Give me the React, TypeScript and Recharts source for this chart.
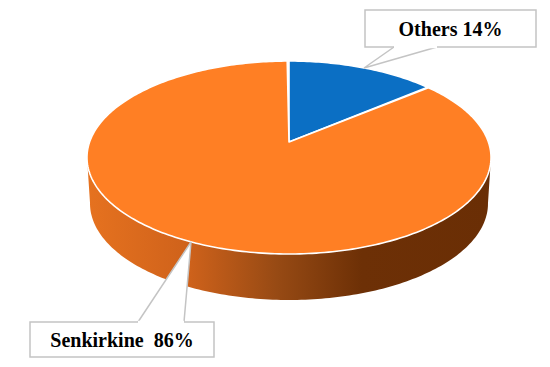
import { PieChart, Pie } from "recharts"

const sliceNames = ["Others", "Senkirkine"]
const sliceValues = [14, 86]
const sliceColors = ["#0b6fc4", "#ff7f24"]

// perspective of the tilted disc: the apex sits above the middle of the ellipse
const CX = 289
const CY = 142
const SCALE_X = 199.4
const SCALE_Y = 94
const TILT = 0.1606
const DEPTH = 46
const BOTTOM_SHRINK = 0.985

const data = sliceNames.map((name, i) => ({ name, value: sliceValues[i], fill: sliceColors[i] }))

// callout boxes, by slice name
const CALLOUTS: Record<string, any> = {
  Others: { x: 365, y: 10, w: 171, h: 37, baseA: 394, baseB: 437, baseY: 47, tipX: 364, tipY: 68, gap: " ", textY: 36 },
  Senkirkine: { x: 30, y: 322, w: 184, h: 35, baseA: 138, baseB: 184, baseY: 322, tipX: 191, tipY: 242, gap: "  ", textY: 347 },
}

// angle in degrees clockwise from the top of the disc
function project(deg: number) {
  const t = (deg * Math.PI) / 180
  const u = Math.sin(t)
  const v = Math.cos(t)
  const d = 1 + TILT * v
  return { x: CX + (SCALE_X * u) / d, y: CY - (SCALE_Y * v) / d }
}

function SliceShape(props: any) {
  const from = 90 - props.startAngle
  const to = 90 - props.endAngle
  const top: string[] = []
  for (let a = from; a <= to; a += 1) {
    const p = project(a)
    top.push(`${p.x.toFixed(2)},${p.y.toFixed(2)}`)
  }
  const face = `M${CX},${CY} L${top.join(" L")} Z`

  // only the front of the disc shows its side
  const frontFrom = Math.max(from, 99)
  const frontTo = Math.min(to, 261)
  let wall = ""
  if (frontTo > frontFrom) {
    const upper: string[] = []
    const lower: string[] = []
    for (let a = frontFrom; a <= frontTo; a += 1) {
      const p = project(a)
      upper.push(`${p.x.toFixed(2)},${p.y.toFixed(2)}`)
      lower.unshift(`${(CX + (p.x - CX) * BOTTOM_SHRINK).toFixed(2)},${(p.y + DEPTH).toFixed(2)}`)
    }
    wall = `M${upper.join(" L")} L${lower.join(" L")} Z`
  }

  return (
    <g>
      <defs>
        <linearGradient id="wallShade" x1="87" x2="491" y1="0" y2="0" gradientUnits="userSpaceOnUse">
          <stop offset="0" stopColor="#e6721f" />
          <stop offset="0.25" stopColor="#cf621b" />
          <stop offset="0.47" stopColor="#974a14" />
          <stop offset="0.68" stopColor="#6d3006" />
          <stop offset="1" stopColor="#6a2e05" />
        </linearGradient>
      </defs>
      {wall && <path d={wall} fill="url(#wallShade)" />}
      <path d={face} fill={props.fill} stroke="#ffffff" strokeWidth={1.6} strokeLinejoin="round" />
    </g>
  )
}

function CalloutLabel(props: any) {
  const c = CALLOUTS[props.name]
  const pct = Math.round(props.percent * 100)
  const outline = `M${c.x},${c.y} H${c.x + c.w} V${c.y + c.h} H${c.x} Z`
  const wedge = `M${c.baseA},${c.baseY} L${c.tipX},${c.tipY} L${c.baseB},${c.baseY}`
  return (
    <g>
      <path d={outline} fill="#ffffff" stroke="#c4c4c4" strokeWidth={1.5} />
      <path d={wedge} fill="#ffffff" stroke="#c4c4c4" strokeWidth={1.5} />
      <path d={`M${c.baseA},${c.baseY} H${c.baseB}`} stroke="#ffffff" strokeWidth={2.5} />
      <text
        x={c.x + c.w / 2}
        y={c.textY}
        textAnchor="middle"
        xmlSpace="preserve"
        style={{ whiteSpace: "pre" }}
        fontFamily="Liberation Serif"
        fontWeight="bold"
        fontSize={20}
        fill="#000000"
      >
        {`${props.name}${c.gap}${pct}%`}
      </text>
    </g>
  )
}

export default function App() {
  return (
    <div style={{ position: "absolute", left: 0, top: 0, width: 550, height: 367, background: "#ffffff" }}>
      <PieChart width={550} height={367} margin={{ top: 0, right: 0, bottom: 0, left: 0 }}>
        <Pie
          data={data}
          dataKey="value"
          nameKey="name"
          cx={CX}
          cy={CY}
          outerRadius={100}
          startAngle={90}
          endAngle={-270}
          stroke="none"
          shape={SliceShape}
          label={CalloutLabel}
          labelLine={false}
          isAnimationActive={false}
        />
      </PieChart>
    </div>
  )
}
